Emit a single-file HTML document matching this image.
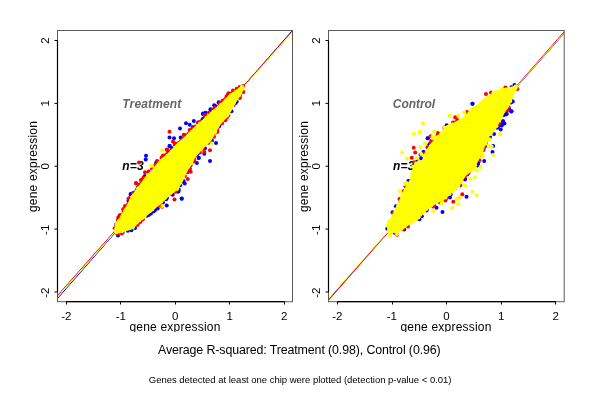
<!DOCTYPE html>
<html><head><meta charset="utf-8">
<style>
html,body{margin:0;padding:0;background:#fff;}
body{width:600px;height:400px;overflow:hidden;position:relative;font-family:"Liberation Sans",sans-serif;}
svg{position:absolute;left:0;top:0;}
text{font-family:"Liberation Sans",sans-serif;fill:#000;filter:grayscale(1);}
.tk{font-size:11.5px;text-anchor:middle;}
.lab{font-size:12px;text-anchor:middle;letter-spacing:0.2px;}
.ttl{font-size:12px;font-weight:bold;font-style:italic;letter-spacing:0.15px;}
</style></head><body>
<svg width="600" height="400" viewBox="0 0 600 400">
<rect width="600" height="400" fill="#fff"/>
<defs>
<clipPath id="cL"><rect x="58" y="31" width="234" height="270"/></clipPath>
<clipPath id="cR"><rect x="329" y="31" width="235" height="270"/></clipPath>
<clipPath id="cX"><rect x="0" y="300" width="600" height="32"/></clipPath>
</defs>
<!-- LEFT PANEL -->
<g id="pL">
<text class="ttl" x="122.3" y="107.9" fill="#666" style="fill:#666">Treatment</text>
<text class="ttl" x="122.3" y="169.7">n=3</text>
<g clip-path="url(#cL)" stroke-width="1" fill="none">
<line x1="57.5" y1="298.5" x2="292.5" y2="30.3" stroke="#0000ff"/>
<line x1="57.5" y1="295.5" x2="292.5" y2="31" stroke="#ff0000"/>
<line x1="57.5" y1="297" x2="292.5" y2="31.9" stroke="#ffff00"/>
</g>
<g id="ptsL">
<circle cx="116.1" cy="224.6" r="2" fill="#0000ff"/>
<circle cx="128.5" cy="200.7" r="2" fill="#0000ff"/>
<circle cx="134.2" cy="192.5" r="2" fill="#0000ff"/>
<circle cx="137.3" cy="189.2" r="2" fill="#0000ff"/>
<circle cx="137.9" cy="187.2" r="2" fill="#0000ff"/>
<circle cx="142.6" cy="180.0" r="2" fill="#0000ff"/>
<circle cx="144.8" cy="175.9" r="2" fill="#0000ff"/>
<circle cx="168.8" cy="151.7" r="2" fill="#0000ff"/>
<circle cx="171.7" cy="148.1" r="2" fill="#0000ff"/>
<circle cx="175.1" cy="144.7" r="2" fill="#0000ff"/>
<circle cx="185.5" cy="135.6" r="2" fill="#0000ff"/>
<circle cx="192.9" cy="127.2" r="2" fill="#0000ff"/>
<circle cx="202.6" cy="119.3" r="2" fill="#0000ff"/>
<circle cx="203.2" cy="119.0" r="2" fill="#0000ff"/>
<circle cx="217.5" cy="106.9" r="2" fill="#0000ff"/>
<circle cx="221.2" cy="102.8" r="2" fill="#0000ff"/>
<circle cx="239.8" cy="95.4" r="2" fill="#0000ff"/>
<circle cx="235.7" cy="103.0" r="2" fill="#0000ff"/>
<circle cx="230.8" cy="111.2" r="2" fill="#0000ff"/>
<circle cx="224.8" cy="119.1" r="2" fill="#0000ff"/>
<circle cx="219.6" cy="125.0" r="2" fill="#0000ff"/>
<circle cx="212.0" cy="140.7" r="2" fill="#0000ff"/>
<circle cx="205.0" cy="148.3" r="2" fill="#0000ff"/>
<circle cx="197.2" cy="154.6" r="2" fill="#0000ff"/>
<circle cx="190.8" cy="165.0" r="2" fill="#0000ff"/>
<circle cx="188.8" cy="170.6" r="2" fill="#0000ff"/>
<circle cx="183.6" cy="181.0" r="2" fill="#0000ff"/>
<circle cx="182.3" cy="181.4" r="2" fill="#0000ff"/>
<circle cx="180.2" cy="185.3" r="2" fill="#0000ff"/>
<circle cx="178.7" cy="189.6" r="2" fill="#0000ff"/>
<circle cx="172.7" cy="192.2" r="2" fill="#0000ff"/>
<circle cx="167.0" cy="197.8" r="2" fill="#0000ff"/>
<circle cx="166.1" cy="199.3" r="2" fill="#0000ff"/>
<circle cx="163.0" cy="202.5" r="2" fill="#0000ff"/>
<circle cx="155.4" cy="207.5" r="2" fill="#0000ff"/>
<circle cx="155.0" cy="209.9" r="2" fill="#0000ff"/>
<circle cx="153.1" cy="211.6" r="2" fill="#0000ff"/>
<circle cx="150.9" cy="213.4" r="2" fill="#0000ff"/>
<circle cx="148.7" cy="215.1" r="2" fill="#0000ff"/>
<circle cx="142.9" cy="218.6" r="2" fill="#0000ff"/>
<circle cx="136.6" cy="223.5" r="2" fill="#0000ff"/>
<circle cx="131.4" cy="230.3" r="2" fill="#0000ff"/>
<circle cx="127.8" cy="230.8" r="2" fill="#0000ff"/>
<circle cx="122.8" cy="231.9" r="2" fill="#0000ff"/>
<circle cx="130.7" cy="194.2" r="2" fill="#0000ff"/>
<circle cx="119.5" cy="216.0" r="2" fill="#0000ff"/>
<circle cx="118.0" cy="235.5" r="2" fill="#0000ff"/>
<circle cx="157.7" cy="208.5" r="2" fill="#0000ff"/>
<circle cx="146.5" cy="216.0" r="2" fill="#0000ff"/>
<circle cx="146.0" cy="155.7" r="2" fill="#0000ff"/>
<circle cx="145.7" cy="159.5" r="2" fill="#0000ff"/>
<circle cx="169.7" cy="146.0" r="2" fill="#0000ff"/>
<circle cx="156.2" cy="162.5" r="2" fill="#0000ff"/>
<circle cx="130.7" cy="194.0" r="2" fill="#0000ff"/>
<circle cx="181.7" cy="198.5" r="2" fill="#0000ff"/>
<circle cx="178.0" cy="191.7" r="2" fill="#0000ff"/>
<circle cx="172.7" cy="194.7" r="2" fill="#0000ff"/>
<circle cx="181.7" cy="198.8" r="2" fill="#0000ff"/>
<circle cx="166.7" cy="205.5" r="2" fill="#0000ff"/>
<circle cx="178.7" cy="191.0" r="2" fill="#0000ff"/>
<circle cx="184.7" cy="183.5" r="2" fill="#0000ff"/>
<circle cx="188.0" cy="171.0" r="2" fill="#0000ff"/>
<circle cx="169.5" cy="137.5" r="2" fill="#0000ff"/>
<circle cx="174.0" cy="138.2" r="2" fill="#0000ff"/>
<circle cx="180.0" cy="128.5" r="2" fill="#0000ff"/>
<circle cx="180.7" cy="137.5" r="2" fill="#0000ff"/>
<circle cx="169.5" cy="146.0" r="2" fill="#0000ff"/>
<circle cx="186.0" cy="123.2" r="2" fill="#0000ff"/>
<circle cx="189.7" cy="124.7" r="2" fill="#0000ff"/>
<circle cx="193.8" cy="121.0" r="2" fill="#0000ff"/>
<circle cx="198.7" cy="122.5" r="2" fill="#0000ff"/>
<circle cx="203.2" cy="114.2" r="2" fill="#0000ff"/>
<circle cx="205.5" cy="112.7" r="2" fill="#0000ff"/>
<circle cx="210.7" cy="109.7" r="2" fill="#0000ff"/>
<circle cx="215.2" cy="106.0" r="2" fill="#0000ff"/>
<circle cx="219.0" cy="103.0" r="2" fill="#0000ff"/>
<circle cx="216.0" cy="143.0" r="2" fill="#0000ff"/>
<circle cx="210.7" cy="138.2" r="2" fill="#0000ff"/>
<circle cx="204.3" cy="153.7" r="2" fill="#0000ff"/>
<circle cx="198.7" cy="157.7" r="2" fill="#0000ff"/>
<circle cx="219.0" cy="126.2" r="2" fill="#0000ff"/>
<circle cx="218.7" cy="102.2" r="2" fill="#0000ff"/>
<circle cx="214.2" cy="105.2" r="2" fill="#0000ff"/>
<circle cx="210.5" cy="109.3" r="2" fill="#0000ff"/>
<circle cx="203.0" cy="113.5" r="2" fill="#0000ff"/>
<circle cx="239.5" cy="87.5" r="2" fill="#0000ff"/>
<circle cx="236.7" cy="101.5" r="2" fill="#0000ff"/>
<circle cx="231.5" cy="111.2" r="2" fill="#0000ff"/>
<circle cx="218.7" cy="126.2" r="2" fill="#0000ff"/>
<circle cx="127.0" cy="229.5" r="2" fill="#0000ff"/>
<circle cx="135.0" cy="228.0" r="2" fill="#0000ff"/>
<circle cx="150.0" cy="213.5" r="2" fill="#0000ff"/>
<circle cx="154.0" cy="211.0" r="2" fill="#0000ff"/>
<circle cx="210.0" cy="161.0" r="2" fill="#0000ff"/>
<circle cx="196.9" cy="163.1" r="2" fill="#0000ff"/>
<circle cx="198.7" cy="158.0" r="2" fill="#0000ff"/>
<circle cx="114.8" cy="228.3" r="2" fill="#ff0000"/>
<circle cx="117.9" cy="220.0" r="2" fill="#ff0000"/>
<circle cx="118.3" cy="217.5" r="2" fill="#ff0000"/>
<circle cx="121.5" cy="215.5" r="2" fill="#ff0000"/>
<circle cx="123.5" cy="212.0" r="2" fill="#ff0000"/>
<circle cx="124.2" cy="209.1" r="2" fill="#ff0000"/>
<circle cx="126.2" cy="206.8" r="2" fill="#ff0000"/>
<circle cx="128.1" cy="204.1" r="2" fill="#ff0000"/>
<circle cx="129.6" cy="197.9" r="2" fill="#ff0000"/>
<circle cx="138.8" cy="184.8" r="2" fill="#ff0000"/>
<circle cx="141.5" cy="181.9" r="2" fill="#ff0000"/>
<circle cx="144.8" cy="178.6" r="2" fill="#ff0000"/>
<circle cx="149.0" cy="173.4" r="2" fill="#ff0000"/>
<circle cx="155.3" cy="165.0" r="2" fill="#ff0000"/>
<circle cx="157.6" cy="161.4" r="2" fill="#ff0000"/>
<circle cx="161.5" cy="158.1" r="2" fill="#ff0000"/>
<circle cx="162.3" cy="156.7" r="2" fill="#ff0000"/>
<circle cx="165.0" cy="155.5" r="2" fill="#ff0000"/>
<circle cx="167.1" cy="154.1" r="2" fill="#ff0000"/>
<circle cx="171.2" cy="150.3" r="2" fill="#ff0000"/>
<circle cx="178.7" cy="143.1" r="2" fill="#ff0000"/>
<circle cx="181.3" cy="140.5" r="2" fill="#ff0000"/>
<circle cx="182.8" cy="139.3" r="2" fill="#ff0000"/>
<circle cx="183.7" cy="138.2" r="2" fill="#ff0000"/>
<circle cx="188.2" cy="134.1" r="2" fill="#ff0000"/>
<circle cx="190.1" cy="131.7" r="2" fill="#ff0000"/>
<circle cx="195.4" cy="126.6" r="2" fill="#ff0000"/>
<circle cx="198.1" cy="122.8" r="2" fill="#ff0000"/>
<circle cx="200.6" cy="121.8" r="2" fill="#ff0000"/>
<circle cx="205.2" cy="116.5" r="2" fill="#ff0000"/>
<circle cx="205.6" cy="115.3" r="2" fill="#ff0000"/>
<circle cx="209.1" cy="112.5" r="2" fill="#ff0000"/>
<circle cx="213.0" cy="111.3" r="2" fill="#ff0000"/>
<circle cx="214.8" cy="107.8" r="2" fill="#ff0000"/>
<circle cx="220.0" cy="104.1" r="2" fill="#ff0000"/>
<circle cx="222.6" cy="100.8" r="2" fill="#ff0000"/>
<circle cx="225.1" cy="99.2" r="2" fill="#ff0000"/>
<circle cx="227.8" cy="94.7" r="2" fill="#ff0000"/>
<circle cx="231.7" cy="93.3" r="2" fill="#ff0000"/>
<circle cx="239.8" cy="88.4" r="2" fill="#ff0000"/>
<circle cx="243.0" cy="86.0" r="2" fill="#ff0000"/>
<circle cx="243.4" cy="92.0" r="2" fill="#ff0000"/>
<circle cx="239.9" cy="98.0" r="2" fill="#ff0000"/>
<circle cx="233.8" cy="105.1" r="2" fill="#ff0000"/>
<circle cx="228.4" cy="115.4" r="2" fill="#ff0000"/>
<circle cx="226.8" cy="117.6" r="2" fill="#ff0000"/>
<circle cx="225.3" cy="120.2" r="2" fill="#ff0000"/>
<circle cx="217.4" cy="128.4" r="2" fill="#ff0000"/>
<circle cx="216.3" cy="132.3" r="2" fill="#ff0000"/>
<circle cx="214.9" cy="132.8" r="2" fill="#ff0000"/>
<circle cx="214.0" cy="136.8" r="2" fill="#ff0000"/>
<circle cx="210.3" cy="142.0" r="2" fill="#ff0000"/>
<circle cx="208.4" cy="142.7" r="2" fill="#ff0000"/>
<circle cx="202.9" cy="148.8" r="2" fill="#ff0000"/>
<circle cx="199.9" cy="152.5" r="2" fill="#ff0000"/>
<circle cx="196.2" cy="155.3" r="2" fill="#ff0000"/>
<circle cx="193.8" cy="158.7" r="2" fill="#ff0000"/>
<circle cx="194.0" cy="161.6" r="2" fill="#ff0000"/>
<circle cx="190.0" cy="168.4" r="2" fill="#ff0000"/>
<circle cx="184.9" cy="175.9" r="2" fill="#ff0000"/>
<circle cx="176.6" cy="190.4" r="2" fill="#ff0000"/>
<circle cx="175.4" cy="191.8" r="2" fill="#ff0000"/>
<circle cx="170.9" cy="193.8" r="2" fill="#ff0000"/>
<circle cx="160.6" cy="204.1" r="2" fill="#ff0000"/>
<circle cx="159.1" cy="205.2" r="2" fill="#ff0000"/>
<circle cx="142.8" cy="219.6" r="2" fill="#ff0000"/>
<circle cx="140.1" cy="222.0" r="2" fill="#ff0000"/>
<circle cx="138.1" cy="223.2" r="2" fill="#ff0000"/>
<circle cx="121.8" cy="233.5" r="2" fill="#ff0000"/>
<circle cx="117.6" cy="233.4" r="2" fill="#ff0000"/>
<circle cx="116.5" cy="233.0" r="2" fill="#ff0000"/>
<circle cx="136.0" cy="183.0" r="2" fill="#ff0000"/>
<circle cx="128.5" cy="198.7" r="2" fill="#ff0000"/>
<circle cx="123.2" cy="209.2" r="2" fill="#ff0000"/>
<circle cx="140.5" cy="221.2" r="2" fill="#ff0000"/>
<circle cx="137.5" cy="225.0" r="2" fill="#ff0000"/>
<circle cx="139.0" cy="162.5" r="2" fill="#ff0000"/>
<circle cx="136.0" cy="183.5" r="2" fill="#ff0000"/>
<circle cx="145.0" cy="172.2" r="2" fill="#ff0000"/>
<circle cx="148.7" cy="171.5" r="2" fill="#ff0000"/>
<circle cx="152.0" cy="169.0" r="2" fill="#ff0000"/>
<circle cx="166.7" cy="149.7" r="2" fill="#ff0000"/>
<circle cx="175.0" cy="143.7" r="2" fill="#ff0000"/>
<circle cx="143.5" cy="177.5" r="2" fill="#ff0000"/>
<circle cx="187.7" cy="172.2" r="2" fill="#ff0000"/>
<circle cx="179.5" cy="181.2" r="2" fill="#ff0000"/>
<circle cx="174.5" cy="199.5" r="2" fill="#ff0000"/>
<circle cx="162.2" cy="206.7" r="2" fill="#ff0000"/>
<circle cx="187.7" cy="179.0" r="2" fill="#ff0000"/>
<circle cx="190.7" cy="171.8" r="2" fill="#ff0000"/>
<circle cx="169.5" cy="131.8" r="2" fill="#ff0000"/>
<circle cx="174.7" cy="143.5" r="2" fill="#ff0000"/>
<circle cx="173.0" cy="141.5" r="2" fill="#ff0000"/>
<circle cx="176.0" cy="144.5" r="2" fill="#ff0000"/>
<circle cx="167.2" cy="149.5" r="2" fill="#ff0000"/>
<circle cx="183.7" cy="134.8" r="2" fill="#ff0000"/>
<circle cx="189.7" cy="130.0" r="2" fill="#ff0000"/>
<circle cx="192.5" cy="128.5" r="2" fill="#ff0000"/>
<circle cx="204.7" cy="115.7" r="2" fill="#ff0000"/>
<circle cx="210.0" cy="113.0" r="2" fill="#ff0000"/>
<circle cx="217.5" cy="131.8" r="2" fill="#ff0000"/>
<circle cx="210.0" cy="150.2" r="2" fill="#ff0000"/>
<circle cx="204.3" cy="152.0" r="2" fill="#ff0000"/>
<circle cx="222.0" cy="123.2" r="2" fill="#ff0000"/>
<circle cx="228.5" cy="93.2" r="2" fill="#ff0000"/>
<circle cx="226.5" cy="96.5" r="2" fill="#ff0000"/>
<circle cx="204.5" cy="115.0" r="2" fill="#ff0000"/>
<circle cx="236.7" cy="88.7" r="2" fill="#ff0000"/>
<circle cx="225.5" cy="118.7" r="2" fill="#ff0000"/>
<circle cx="221.7" cy="123.2" r="2" fill="#ff0000"/>
<circle cx="120.0" cy="215.0" r="2" fill="#ff0000"/>
<circle cx="125.0" cy="206.0" r="2" fill="#ff0000"/>
<circle cx="133.0" cy="193.0" r="2" fill="#ff0000"/>
<circle cx="141.0" cy="180.0" r="2" fill="#ff0000"/>
<circle cx="157.0" cy="161.0" r="2" fill="#ff0000"/>
<circle cx="163.0" cy="155.5" r="2" fill="#ff0000"/>
<circle cx="198.0" cy="122.5" r="2" fill="#ff0000"/>
<circle cx="213.0" cy="109.5" r="2" fill="#ff0000"/>
<circle cx="220.0" cy="103.0" r="2" fill="#ff0000"/>
<circle cx="233.0" cy="90.5" r="2" fill="#ff0000"/>
<circle cx="240.0" cy="87.0" r="2" fill="#ff0000"/>
<circle cx="194.4" cy="160.0" r="2" fill="#ff0000"/>
<polygon points="114.2,231.7 115.7,223.5 119.5,217.5 122.5,212.2 127.0,204.7 131.0,196.3 137.5,187.7 143.5,179.0 149.5,172.2 154.7,166.2 160.0,159.5 166.0,155.0 172.0,149.0 178.0,142.7 183.0,138.2 189.0,132.2 195.0,126.2 201.0,121.0 208.0,114.5 215.5,108.2 222.6,101.5 230.0,94.0 237.5,88.7 243.5,86.5 244.4,88.5 240.5,95.5 236.7,101.5 232.2,109.0 228.5,116.5 223.5,121.0 220.5,124.7 216.0,132.2 211.5,140.5 205.5,146.5 200.2,151.7 195.0,157.7 192.0,164.4 188.1,170.0 185.0,176.2 183.0,181.2 180.0,186.2 177.5,190.0 172.0,193.5 166.0,199.2 160.0,204.5 151.0,212.2 145.0,217.5 137.5,223.5 133.7,228.7 122.5,232.5 115.0,233.4" fill="#ffff00"/>
<circle cx="116.0" cy="231.5" r="2" fill="#ffff00"/>
<circle cx="116.1" cy="228.8" r="2" fill="#ffff00"/>
<circle cx="117.6" cy="227.0" r="2" fill="#ffff00"/>
<circle cx="116.7" cy="224.3" r="2" fill="#ffff00"/>
<circle cx="119.1" cy="221.1" r="2" fill="#ffff00"/>
<circle cx="121.9" cy="219.0" r="2" fill="#ffff00"/>
<circle cx="123.6" cy="216.3" r="2" fill="#ffff00"/>
<circle cx="125.1" cy="213.7" r="2" fill="#ffff00"/>
<circle cx="125.4" cy="210.2" r="2" fill="#ffff00"/>
<circle cx="127.4" cy="208.8" r="2" fill="#ffff00"/>
<circle cx="129.4" cy="205.9" r="2" fill="#ffff00"/>
<circle cx="130.6" cy="203.2" r="2" fill="#ffff00"/>
<circle cx="131.5" cy="200.0" r="2" fill="#ffff00"/>
<circle cx="132.4" cy="196.9" r="2" fill="#ffff00"/>
<circle cx="134.1" cy="195.1" r="2" fill="#ffff00"/>
<circle cx="136.0" cy="193.3" r="2" fill="#ffff00"/>
<circle cx="137.6" cy="191.0" r="2" fill="#ffff00"/>
<circle cx="138.2" cy="188.3" r="2" fill="#ffff00"/>
<circle cx="141.2" cy="187.1" r="2" fill="#ffff00"/>
<circle cx="142.7" cy="184.5" r="2" fill="#ffff00"/>
<circle cx="144.1" cy="182.9" r="2" fill="#ffff00"/>
<circle cx="145.5" cy="180.6" r="2" fill="#ffff00"/>
<circle cx="147.2" cy="178.1" r="2" fill="#ffff00"/>
<circle cx="148.2" cy="175.1" r="2" fill="#ffff00"/>
<circle cx="151.3" cy="173.5" r="2" fill="#ffff00"/>
<circle cx="153.5" cy="172.1" r="2" fill="#ffff00"/>
<circle cx="154.8" cy="169.7" r="2" fill="#ffff00"/>
<circle cx="156.7" cy="167.6" r="2" fill="#ffff00"/>
<circle cx="158.4" cy="165.8" r="2" fill="#ffff00"/>
<circle cx="160.6" cy="163.6" r="2" fill="#ffff00"/>
<circle cx="161.7" cy="161.5" r="2" fill="#ffff00"/>
<circle cx="163.2" cy="159.7" r="2" fill="#ffff00"/>
<circle cx="164.9" cy="158.5" r="2" fill="#ffff00"/>
<circle cx="167.4" cy="156.0" r="2" fill="#ffff00"/>
<circle cx="169.7" cy="154.4" r="2" fill="#ffff00"/>
<circle cx="171.4" cy="151.8" r="2" fill="#ffff00"/>
<circle cx="173.9" cy="150.6" r="2" fill="#ffff00"/>
<circle cx="175.5" cy="148.3" r="2" fill="#ffff00"/>
<circle cx="176.8" cy="146.2" r="2" fill="#ffff00"/>
<circle cx="178.7" cy="144.2" r="2" fill="#ffff00"/>
<circle cx="181.8" cy="142.0" r="2" fill="#ffff00"/>
<circle cx="184.4" cy="140.1" r="2" fill="#ffff00"/>
<circle cx="187.1" cy="137.7" r="2" fill="#ffff00"/>
<circle cx="188.3" cy="135.9" r="2" fill="#ffff00"/>
<circle cx="190.3" cy="133.6" r="2" fill="#ffff00"/>
<circle cx="191.9" cy="131.9" r="2" fill="#ffff00"/>
<circle cx="195.1" cy="129.5" r="2" fill="#ffff00"/>
<circle cx="197.0" cy="128.1" r="2" fill="#ffff00"/>
<circle cx="198.5" cy="126.2" r="2" fill="#ffff00"/>
<circle cx="200.1" cy="123.5" r="2" fill="#ffff00"/>
<circle cx="203.0" cy="123.6" r="2" fill="#ffff00"/>
<circle cx="205.1" cy="120.4" r="2" fill="#ffff00"/>
<circle cx="206.7" cy="117.8" r="2" fill="#ffff00"/>
<circle cx="209.4" cy="116.6" r="2" fill="#ffff00"/>
<circle cx="211.7" cy="113.8" r="2" fill="#ffff00"/>
<circle cx="213.7" cy="111.5" r="2" fill="#ffff00"/>
<circle cx="216.5" cy="109.4" r="2" fill="#ffff00"/>
<circle cx="218.8" cy="107.2" r="2" fill="#ffff00"/>
<circle cx="220.8" cy="105.0" r="2" fill="#ffff00"/>
<circle cx="224.9" cy="103.5" r="2" fill="#ffff00"/>
<circle cx="226.0" cy="100.5" r="2" fill="#ffff00"/>
<circle cx="227.6" cy="99.3" r="2" fill="#ffff00"/>
<circle cx="229.5" cy="97.0" r="2" fill="#ffff00"/>
<circle cx="231.2" cy="95.2" r="2" fill="#ffff00"/>
<circle cx="233.5" cy="94.2" r="2" fill="#ffff00"/>
<circle cx="236.1" cy="92.3" r="2" fill="#ffff00"/>
<circle cx="238.1" cy="91.8" r="2" fill="#ffff00"/>
<circle cx="241.3" cy="90.0" r="2" fill="#ffff00"/>
<circle cx="241.9" cy="87.3" r="2" fill="#ffff00"/>
<circle cx="242.2" cy="86.8" r="2" fill="#ffff00"/>
<circle cx="240.1" cy="89.1" r="2" fill="#ffff00"/>
<circle cx="239.3" cy="91.9" r="2" fill="#ffff00"/>
<circle cx="239.3" cy="95.1" r="2" fill="#ffff00"/>
<circle cx="235.8" cy="96.6" r="2" fill="#ffff00"/>
<circle cx="233.9" cy="99.9" r="2" fill="#ffff00"/>
<circle cx="233.7" cy="102.8" r="2" fill="#ffff00"/>
<circle cx="232.0" cy="105.5" r="2" fill="#ffff00"/>
<circle cx="229.9" cy="107.7" r="2" fill="#ffff00"/>
<circle cx="229.4" cy="110.6" r="2" fill="#ffff00"/>
<circle cx="227.9" cy="113.7" r="2" fill="#ffff00"/>
<circle cx="226.9" cy="115.0" r="2" fill="#ffff00"/>
<circle cx="224.6" cy="116.7" r="2" fill="#ffff00"/>
<circle cx="222.0" cy="119.6" r="2" fill="#ffff00"/>
<circle cx="218.0" cy="123.4" r="2" fill="#ffff00"/>
<circle cx="217.1" cy="126.2" r="2" fill="#ffff00"/>
<circle cx="215.1" cy="128.9" r="2" fill="#ffff00"/>
<circle cx="215.2" cy="131.9" r="2" fill="#ffff00"/>
<circle cx="211.7" cy="133.3" r="2" fill="#ffff00"/>
<circle cx="210.6" cy="136.3" r="2" fill="#ffff00"/>
<circle cx="208.9" cy="138.4" r="2" fill="#ffff00"/>
<circle cx="207.8" cy="141.0" r="2" fill="#ffff00"/>
<circle cx="206.2" cy="142.3" r="2" fill="#ffff00"/>
<circle cx="203.6" cy="145.3" r="2" fill="#ffff00"/>
<circle cx="201.5" cy="148.1" r="2" fill="#ffff00"/>
<circle cx="198.1" cy="149.7" r="2" fill="#ffff00"/>
<circle cx="196.8" cy="152.3" r="2" fill="#ffff00"/>
<circle cx="195.4" cy="154.3" r="2" fill="#ffff00"/>
<circle cx="192.9" cy="156.7" r="2" fill="#ffff00"/>
<circle cx="191.6" cy="160.1" r="2" fill="#ffff00"/>
<circle cx="191.1" cy="163.6" r="2" fill="#ffff00"/>
<circle cx="187.8" cy="165.8" r="2" fill="#ffff00"/>
<circle cx="186.0" cy="169.3" r="2" fill="#ffff00"/>
<circle cx="183.9" cy="171.6" r="2" fill="#ffff00"/>
<circle cx="183.3" cy="175.1" r="2" fill="#ffff00"/>
<circle cx="182.4" cy="177.6" r="2" fill="#ffff00"/>
<circle cx="180.9" cy="179.7" r="2" fill="#ffff00"/>
<circle cx="179.9" cy="182.7" r="2" fill="#ffff00"/>
<circle cx="177.9" cy="184.8" r="2" fill="#ffff00"/>
<circle cx="177.2" cy="188.7" r="2" fill="#ffff00"/>
<circle cx="173.4" cy="190.8" r="2" fill="#ffff00"/>
<circle cx="171.0" cy="192.5" r="2" fill="#ffff00"/>
<circle cx="168.3" cy="193.7" r="2" fill="#ffff00"/>
<circle cx="166.3" cy="194.9" r="2" fill="#ffff00"/>
<circle cx="164.7" cy="198.1" r="2" fill="#ffff00"/>
<circle cx="162.5" cy="199.3" r="2" fill="#ffff00"/>
<circle cx="161.3" cy="201.5" r="2" fill="#ffff00"/>
<circle cx="158.8" cy="203.6" r="2" fill="#ffff00"/>
<circle cx="156.0" cy="204.5" r="2" fill="#ffff00"/>
<circle cx="154.0" cy="206.9" r="2" fill="#ffff00"/>
<circle cx="152.2" cy="209.4" r="2" fill="#ffff00"/>
<circle cx="149.8" cy="211.3" r="2" fill="#ffff00"/>
<circle cx="147.5" cy="212.5" r="2" fill="#ffff00"/>
<circle cx="145.5" cy="213.6" r="2" fill="#ffff00"/>
<circle cx="144.6" cy="216.7" r="2" fill="#ffff00"/>
<circle cx="142.0" cy="217.9" r="2" fill="#ffff00"/>
<circle cx="139.2" cy="220.3" r="2" fill="#ffff00"/>
<circle cx="136.6" cy="222.6" r="2" fill="#ffff00"/>
<circle cx="133.8" cy="224.4" r="2" fill="#ffff00"/>
<circle cx="133.0" cy="226.9" r="2" fill="#ffff00"/>
<circle cx="130.3" cy="227.5" r="2" fill="#ffff00"/>
<circle cx="126.9" cy="227.5" r="2" fill="#ffff00"/>
<circle cx="124.8" cy="229.2" r="2" fill="#ffff00"/>
<circle cx="122.2" cy="230.9" r="2" fill="#ffff00"/>
<circle cx="119.8" cy="229.7" r="2" fill="#ffff00"/>
<circle cx="117.1" cy="230.1" r="2" fill="#ffff00"/>
<circle cx="116.7" cy="232.2" r="2" fill="#ffff00"/>
<circle cx="162.2" cy="150.5" r="2" fill="#ffff00"/>
<circle cx="151.7" cy="165.8" r="2" fill="#ffff00"/>
<circle cx="212.0" cy="143.5" r="2" fill="#ffff00"/>
<circle cx="177.0" cy="187.5" r="2" fill="#ffff00"/>
<circle cx="162.5" cy="206.0" r="2" fill="#ffff00"/>
</g>
<rect x="57.5" y="30.5" width="235" height="271.2" fill="none" stroke="#5a5a5a" stroke-width="1"/>
<path d="M57.5 40.5V292M66.25 301.7H284.25" stroke="#000" stroke-width="1.2" fill="none"/>
<path d="M54.5 40.5H57.5M54.5 103.4H57.5M54.5 166.25H57.5M54.5 229.1H57.5M54.5 292H57.5M66.5 301.5V304.5M120.5 301.5V304.5M175.5 301.5V304.5M229.5 301.5V304.5M284.5 301.5V304.5" stroke="#000" stroke-width="1" fill="none"/>
<g class="tk">
<text x="66.25" y="319.7">-2</text><text x="120.75" y="319.7">-1</text><text x="175.25" y="319.7">0</text><text x="229.75" y="319.7">1</text><text x="284.25" y="319.7">2</text>
<text transform="translate(48.5 292.7) rotate(-90)">-2</text><text transform="translate(48.5 229.8) rotate(-90)">-1</text><text transform="translate(48.5 166.25) rotate(-90)">0</text><text transform="translate(48.5 103.4) rotate(-90)">1</text><text transform="translate(48.5 40.5) rotate(-90)">2</text>
</g>
<g clip-path="url(#cX)"><text class="lab" x="175" y="331">gene expression</text></g>
<text class="lab" transform="translate(37 166.5) rotate(-90)">gene expression</text>
</g>
<!-- RIGHT PANEL -->
<g id="pR">
<text class="ttl" x="392.8" y="107.9" style="fill:#666;letter-spacing:-0.05px">Control</text>
<text class="ttl" x="393" y="169.7">n=3</text>
<g clip-path="url(#cR)" stroke-width="1" fill="none">
<line x1="328.5" y1="299.3" x2="564.5" y2="33" stroke="#0000ff"/>
<line x1="328.5" y1="300.3" x2="564.5" y2="31.3" stroke="#ff0000"/>
<line x1="328.5" y1="298.6" x2="564.5" y2="32.6" stroke="#ffff00"/>
</g>
<g id="ptsR">
<circle cx="395.9" cy="206.2" r="2" fill="#0000ff"/>
<circle cx="417.5" cy="161.5" r="2" fill="#0000ff"/>
<circle cx="429.4" cy="144.3" r="2" fill="#0000ff"/>
<circle cx="446.6" cy="125.2" r="2" fill="#0000ff"/>
<circle cx="511.4" cy="87.3" r="2" fill="#0000ff"/>
<circle cx="511.3" cy="101.0" r="2" fill="#0000ff"/>
<circle cx="511.0" cy="102.5" r="2" fill="#0000ff"/>
<circle cx="506.6" cy="109.7" r="2" fill="#0000ff"/>
<circle cx="503.7" cy="115.2" r="2" fill="#0000ff"/>
<circle cx="498.2" cy="126.3" r="2" fill="#0000ff"/>
<circle cx="485.5" cy="145.8" r="2" fill="#0000ff"/>
<circle cx="478.3" cy="162.3" r="2" fill="#0000ff"/>
<circle cx="477.6" cy="164.1" r="2" fill="#0000ff"/>
<circle cx="467.3" cy="174.3" r="2" fill="#0000ff"/>
<circle cx="464.8" cy="178.3" r="2" fill="#0000ff"/>
<circle cx="450.6" cy="194.6" r="2" fill="#0000ff"/>
<circle cx="426.5" cy="210.4" r="2" fill="#0000ff"/>
<circle cx="421.9" cy="216.2" r="2" fill="#0000ff"/>
<circle cx="404.2" cy="229.6" r="2" fill="#0000ff"/>
<circle cx="394.7" cy="232.8" r="2" fill="#0000ff"/>
<circle cx="408.2" cy="181.5" r="2" fill="#0000ff"/>
<circle cx="419.5" cy="219.3" r="2" fill="#0000ff"/>
<circle cx="387.2" cy="228.7" r="2" fill="#0000ff"/>
<circle cx="392.5" cy="212.2" r="2" fill="#0000ff"/>
<circle cx="428.0" cy="138.2" r="2" fill="#0000ff"/>
<circle cx="423.5" cy="151.7" r="2" fill="#0000ff"/>
<circle cx="420.5" cy="154.7" r="2" fill="#0000ff"/>
<circle cx="421.2" cy="158.5" r="2" fill="#0000ff"/>
<circle cx="408.5" cy="181.0" r="2" fill="#0000ff"/>
<circle cx="417.5" cy="167.5" r="2" fill="#0000ff"/>
<circle cx="442.5" cy="212.0" r="2" fill="#0000ff"/>
<circle cx="436.5" cy="207.7" r="2" fill="#0000ff"/>
<circle cx="466.5" cy="196.7" r="2" fill="#0000ff"/>
<circle cx="450.0" cy="197.5" r="2" fill="#0000ff"/>
<circle cx="455.2" cy="187.7" r="2" fill="#0000ff"/>
<circle cx="465.0" cy="179.5" r="2" fill="#0000ff"/>
<circle cx="477.7" cy="164.5" r="2" fill="#0000ff"/>
<circle cx="472.5" cy="103.8" r="2" fill="#0000ff"/>
<circle cx="427.5" cy="138.3" r="2" fill="#0000ff"/>
<circle cx="472.5" cy="103.7" r="2" fill="#0000ff"/>
<circle cx="514.5" cy="85.0" r="2" fill="#0000ff"/>
<circle cx="489.7" cy="99.7" r="2" fill="#0000ff"/>
<circle cx="512.8" cy="101.5" r="2" fill="#0000ff"/>
<circle cx="511.5" cy="111.2" r="2" fill="#0000ff"/>
<circle cx="509.2" cy="109.0" r="2" fill="#0000ff"/>
<circle cx="506.2" cy="114.2" r="2" fill="#0000ff"/>
<circle cx="503.2" cy="122.5" r="2" fill="#0000ff"/>
<circle cx="501.7" cy="125.5" r="2" fill="#0000ff"/>
<circle cx="497.2" cy="127.7" r="2" fill="#0000ff"/>
<circle cx="506.7" cy="113.7" r="2" fill="#0000ff"/>
<circle cx="511.2" cy="111.5" r="2" fill="#0000ff"/>
<circle cx="503.0" cy="121.0" r="2" fill="#0000ff"/>
<circle cx="504.5" cy="123.5" r="2" fill="#0000ff"/>
<circle cx="502.0" cy="124.5" r="2" fill="#0000ff"/>
<circle cx="500.7" cy="129.5" r="2" fill="#0000ff"/>
<circle cx="494.0" cy="134.0" r="2" fill="#0000ff"/>
<circle cx="493.2" cy="146.0" r="2" fill="#0000ff"/>
<circle cx="492.5" cy="152.0" r="2" fill="#0000ff"/>
<circle cx="484.2" cy="161.0" r="2" fill="#0000ff"/>
<circle cx="477.5" cy="165.5" r="2" fill="#0000ff"/>
<circle cx="490.0" cy="137.0" r="2" fill="#0000ff"/>
<circle cx="486.0" cy="143.0" r="2" fill="#0000ff"/>
<circle cx="424.8" cy="153.2" r="2" fill="#ff0000"/>
<circle cx="427.4" cy="147.3" r="2" fill="#ff0000"/>
<circle cx="431.2" cy="141.1" r="2" fill="#ff0000"/>
<circle cx="433.6" cy="140.1" r="2" fill="#ff0000"/>
<circle cx="437.5" cy="135.5" r="2" fill="#ff0000"/>
<circle cx="444.4" cy="128.1" r="2" fill="#ff0000"/>
<circle cx="453.0" cy="122.5" r="2" fill="#ff0000"/>
<circle cx="455.2" cy="122.6" r="2" fill="#ff0000"/>
<circle cx="457.2" cy="120.1" r="2" fill="#ff0000"/>
<circle cx="505.4" cy="87.4" r="2" fill="#ff0000"/>
<circle cx="517.4" cy="88.9" r="2" fill="#ff0000"/>
<circle cx="508.6" cy="107.1" r="2" fill="#ff0000"/>
<circle cx="507.2" cy="110.5" r="2" fill="#ff0000"/>
<circle cx="499.0" cy="123.5" r="2" fill="#ff0000"/>
<circle cx="483.4" cy="150.1" r="2" fill="#ff0000"/>
<circle cx="482.0" cy="155.8" r="2" fill="#ff0000"/>
<circle cx="479.4" cy="160.3" r="2" fill="#ff0000"/>
<circle cx="465.5" cy="175.3" r="2" fill="#ff0000"/>
<circle cx="460.3" cy="185.2" r="2" fill="#ff0000"/>
<circle cx="446.6" cy="198.0" r="2" fill="#ff0000"/>
<circle cx="434.1" cy="205.3" r="2" fill="#ff0000"/>
<circle cx="403.1" cy="229.0" r="2" fill="#ff0000"/>
<circle cx="397.0" cy="234.7" r="2" fill="#ff0000"/>
<circle cx="403.7" cy="191.2" r="2" fill="#ff0000"/>
<circle cx="416.5" cy="219.0" r="2" fill="#ff0000"/>
<circle cx="427.0" cy="209.2" r="2" fill="#ff0000"/>
<circle cx="413.7" cy="147.7" r="2" fill="#ff0000"/>
<circle cx="415.2" cy="152.5" r="2" fill="#ff0000"/>
<circle cx="411.8" cy="157.7" r="2" fill="#ff0000"/>
<circle cx="414.8" cy="162.2" r="2" fill="#ff0000"/>
<circle cx="431.0" cy="142.7" r="2" fill="#ff0000"/>
<circle cx="437.7" cy="133.0" r="2" fill="#ff0000"/>
<circle cx="415.2" cy="174.2" r="2" fill="#ff0000"/>
<circle cx="405.5" cy="186.2" r="2" fill="#ff0000"/>
<circle cx="425.0" cy="159.0" r="2" fill="#ff0000"/>
<circle cx="426.0" cy="209.2" r="2" fill="#ff0000"/>
<circle cx="453.3" cy="201.7" r="2" fill="#ff0000"/>
<circle cx="462.3" cy="194.2" r="2" fill="#ff0000"/>
<circle cx="445.5" cy="200.5" r="2" fill="#ff0000"/>
<circle cx="463.5" cy="177.2" r="2" fill="#ff0000"/>
<circle cx="468.7" cy="172.7" r="2" fill="#ff0000"/>
<circle cx="455.2" cy="117.3" r="2" fill="#ff0000"/>
<circle cx="467.2" cy="112.2" r="2" fill="#ff0000"/>
<circle cx="438.0" cy="133.8" r="2" fill="#ff0000"/>
<circle cx="430.5" cy="136.2" r="2" fill="#ff0000"/>
<circle cx="431.2" cy="142.5" r="2" fill="#ff0000"/>
<circle cx="486.0" cy="94.0" r="2" fill="#ff0000"/>
<circle cx="466.8" cy="112.3" r="2" fill="#ff0000"/>
<circle cx="491.0" cy="92.5" r="2" fill="#ff0000"/>
<circle cx="484.2" cy="147.5" r="2" fill="#ff0000"/>
<circle cx="479.7" cy="152.7" r="2" fill="#ff0000"/>
<circle cx="393.0" cy="213.0" r="2" fill="#ff0000"/>
<circle cx="399.5" cy="199.0" r="2" fill="#ff0000"/>
<circle cx="389.0" cy="228.0" r="2" fill="#ff0000"/>
<circle cx="408.0" cy="226.5" r="2" fill="#ff0000"/>
<circle cx="433.0" cy="206.5" r="2" fill="#ff0000"/>
<circle cx="440.0" cy="202.5" r="2" fill="#ff0000"/>
<polygon points="388.0,231.7 387.2,223.5 391.0,217.5 394.7,209.2 397.7,202.5 402.2,195.0 404.0,189.2 410.0,179.5 412.2,170.5 416.0,163.0 422.0,160.0 425.0,152.5 429.5,145.0 435.0,138.0 442.5,130.5 447.0,125.2 454.5,122.2 462.0,117.7 466.0,114.7 471.0,108.2 478.5,103.7 483.0,98.5 489.0,95.5 492.7,92.5 500.2,89.5 508.5,87.2 516.0,85.7 517.5,87.2 516.7,89.5 513.7,94.7 511.5,101.5 508.5,107.5 504.7,112.0 501.5,119.0 497.0,126.5 492.5,132.5 488.0,138.5 485.0,146.0 482.0,153.5 477.5,162.5 474.5,169.2 465.0,176.5 462.0,182.5 457.5,188.5 450.0,194.5 444.0,199.7 436.5,203.5 429.0,208.7 421.0,216.0 415.0,222.0 409.0,225.0 401.5,230.2 392.5,233.2 391.0,235.5" fill="#ffff00"/>
<circle cx="388.6" cy="231.4" r="2" fill="#ffff00"/>
<circle cx="389.1" cy="228.7" r="2" fill="#ffff00"/>
<circle cx="388.4" cy="226.2" r="2" fill="#ffff00"/>
<circle cx="388.3" cy="224.5" r="2" fill="#ffff00"/>
<circle cx="389.3" cy="221.2" r="2" fill="#ffff00"/>
<circle cx="392.8" cy="217.8" r="2" fill="#ffff00"/>
<circle cx="394.3" cy="215.3" r="2" fill="#ffff00"/>
<circle cx="395.9" cy="212.9" r="2" fill="#ffff00"/>
<circle cx="397.5" cy="210.5" r="2" fill="#ffff00"/>
<circle cx="398.0" cy="207.1" r="2" fill="#ffff00"/>
<circle cx="399.6" cy="203.6" r="2" fill="#ffff00"/>
<circle cx="402.4" cy="202.0" r="2" fill="#ffff00"/>
<circle cx="402.1" cy="198.4" r="2" fill="#ffff00"/>
<circle cx="402.4" cy="195.7" r="2" fill="#ffff00"/>
<circle cx="404.3" cy="192.5" r="2" fill="#ffff00"/>
<circle cx="406.1" cy="190.6" r="2" fill="#ffff00"/>
<circle cx="407.3" cy="187.8" r="2" fill="#ffff00"/>
<circle cx="407.9" cy="184.8" r="2" fill="#ffff00"/>
<circle cx="410.1" cy="183.6" r="2" fill="#ffff00"/>
<circle cx="411.7" cy="180.4" r="2" fill="#ffff00"/>
<circle cx="411.8" cy="176.8" r="2" fill="#ffff00"/>
<circle cx="412.3" cy="173.3" r="2" fill="#ffff00"/>
<circle cx="413.5" cy="171.3" r="2" fill="#ffff00"/>
<circle cx="415.4" cy="169.2" r="2" fill="#ffff00"/>
<circle cx="415.5" cy="165.5" r="2" fill="#ffff00"/>
<circle cx="416.0" cy="163.4" r="2" fill="#ffff00"/>
<circle cx="419.0" cy="162.0" r="2" fill="#ffff00"/>
<circle cx="424.4" cy="161.2" r="2" fill="#ffff00"/>
<circle cx="425.3" cy="158.8" r="2" fill="#ffff00"/>
<circle cx="424.5" cy="155.7" r="2" fill="#ffff00"/>
<circle cx="426.6" cy="153.5" r="2" fill="#ffff00"/>
<circle cx="427.5" cy="150.6" r="2" fill="#ffff00"/>
<circle cx="429.6" cy="148.6" r="2" fill="#ffff00"/>
<circle cx="431.1" cy="146.0" r="2" fill="#ffff00"/>
<circle cx="433.8" cy="144.0" r="2" fill="#ffff00"/>
<circle cx="435.3" cy="142.0" r="2" fill="#ffff00"/>
<circle cx="435.5" cy="138.1" r="2" fill="#ffff00"/>
<circle cx="437.7" cy="137.0" r="2" fill="#ffff00"/>
<circle cx="440.5" cy="136.0" r="2" fill="#ffff00"/>
<circle cx="441.4" cy="133.9" r="2" fill="#ffff00"/>
<circle cx="444.9" cy="132.4" r="2" fill="#ffff00"/>
<circle cx="444.9" cy="127.8" r="2" fill="#ffff00"/>
<circle cx="447.9" cy="126.9" r="2" fill="#ffff00"/>
<circle cx="451.1" cy="127.5" r="2" fill="#ffff00"/>
<circle cx="452.4" cy="124.5" r="2" fill="#ffff00"/>
<circle cx="456.1" cy="124.3" r="2" fill="#ffff00"/>
<circle cx="458.6" cy="123.1" r="2" fill="#ffff00"/>
<circle cx="460.6" cy="120.5" r="2" fill="#ffff00"/>
<circle cx="463.0" cy="119.7" r="2" fill="#ffff00"/>
<circle cx="465.2" cy="116.9" r="2" fill="#ffff00"/>
<circle cx="467.1" cy="115.4" r="2" fill="#ffff00"/>
<circle cx="469.6" cy="113.4" r="2" fill="#ffff00"/>
<circle cx="471.6" cy="112.2" r="2" fill="#ffff00"/>
<circle cx="471.8" cy="109.5" r="2" fill="#ffff00"/>
<circle cx="474.2" cy="107.9" r="2" fill="#ffff00"/>
<circle cx="476.6" cy="106.7" r="2" fill="#ffff00"/>
<circle cx="479.9" cy="104.7" r="2" fill="#ffff00"/>
<circle cx="482.7" cy="102.2" r="2" fill="#ffff00"/>
<circle cx="484.1" cy="100.8" r="2" fill="#ffff00"/>
<circle cx="486.9" cy="98.8" r="2" fill="#ffff00"/>
<circle cx="490.5" cy="97.2" r="2" fill="#ffff00"/>
<circle cx="493.5" cy="95.0" r="2" fill="#ffff00"/>
<circle cx="495.5" cy="93.0" r="2" fill="#ffff00"/>
<circle cx="498.2" cy="91.7" r="2" fill="#ffff00"/>
<circle cx="500.5" cy="92.2" r="2" fill="#ffff00"/>
<circle cx="502.8" cy="89.7" r="2" fill="#ffff00"/>
<circle cx="505.7" cy="89.5" r="2" fill="#ffff00"/>
<circle cx="509.2" cy="90.1" r="2" fill="#ffff00"/>
<circle cx="511.9" cy="89.0" r="2" fill="#ffff00"/>
<circle cx="514.2" cy="87.9" r="2" fill="#ffff00"/>
<circle cx="515.5" cy="86.8" r="2" fill="#ffff00"/>
<circle cx="515.7" cy="86.5" r="2" fill="#ffff00"/>
<circle cx="515.4" cy="88.5" r="2" fill="#ffff00"/>
<circle cx="512.8" cy="91.1" r="2" fill="#ffff00"/>
<circle cx="512.2" cy="94.7" r="2" fill="#ffff00"/>
<circle cx="511.1" cy="97.5" r="2" fill="#ffff00"/>
<circle cx="510.3" cy="101.0" r="2" fill="#ffff00"/>
<circle cx="507.2" cy="103.7" r="2" fill="#ffff00"/>
<circle cx="506.3" cy="106.2" r="2" fill="#ffff00"/>
<circle cx="505.4" cy="108.3" r="2" fill="#ffff00"/>
<circle cx="503.0" cy="111.5" r="2" fill="#ffff00"/>
<circle cx="502.0" cy="113.7" r="2" fill="#ffff00"/>
<circle cx="501.1" cy="116.2" r="2" fill="#ffff00"/>
<circle cx="500.4" cy="118.4" r="2" fill="#ffff00"/>
<circle cx="498.4" cy="120.6" r="2" fill="#ffff00"/>
<circle cx="495.5" cy="122.5" r="2" fill="#ffff00"/>
<circle cx="496.6" cy="126.0" r="2" fill="#ffff00"/>
<circle cx="494.6" cy="128.1" r="2" fill="#ffff00"/>
<circle cx="493.0" cy="129.3" r="2" fill="#ffff00"/>
<circle cx="491.8" cy="131.8" r="2" fill="#ffff00"/>
<circle cx="490.7" cy="133.9" r="2" fill="#ffff00"/>
<circle cx="487.2" cy="135.0" r="2" fill="#ffff00"/>
<circle cx="485.3" cy="137.9" r="2" fill="#ffff00"/>
<circle cx="486.3" cy="141.1" r="2" fill="#ffff00"/>
<circle cx="485.7" cy="143.8" r="2" fill="#ffff00"/>
<circle cx="483.1" cy="144.7" r="2" fill="#ffff00"/>
<circle cx="482.3" cy="147.7" r="2" fill="#ffff00"/>
<circle cx="481.8" cy="150.1" r="2" fill="#ffff00"/>
<circle cx="481.5" cy="153.7" r="2" fill="#ffff00"/>
<circle cx="478.6" cy="154.3" r="2" fill="#ffff00"/>
<circle cx="476.7" cy="156.4" r="2" fill="#ffff00"/>
<circle cx="476.7" cy="159.0" r="2" fill="#ffff00"/>
<circle cx="474.4" cy="161.4" r="2" fill="#ffff00"/>
<circle cx="475.1" cy="165.3" r="2" fill="#ffff00"/>
<circle cx="474.1" cy="168.8" r="2" fill="#ffff00"/>
<circle cx="471.5" cy="169.6" r="2" fill="#ffff00"/>
<circle cx="468.6" cy="171.2" r="2" fill="#ffff00"/>
<circle cx="465.2" cy="172.2" r="2" fill="#ffff00"/>
<circle cx="463.3" cy="176.2" r="2" fill="#ffff00"/>
<circle cx="461.7" cy="178.5" r="2" fill="#ffff00"/>
<circle cx="461.1" cy="181.8" r="2" fill="#ffff00"/>
<circle cx="458.4" cy="183.2" r="2" fill="#ffff00"/>
<circle cx="458.2" cy="185.5" r="2" fill="#ffff00"/>
<circle cx="456.5" cy="186.8" r="2" fill="#ffff00"/>
<circle cx="453.5" cy="188.9" r="2" fill="#ffff00"/>
<circle cx="451.3" cy="190.9" r="2" fill="#ffff00"/>
<circle cx="449.5" cy="194.1" r="2" fill="#ffff00"/>
<circle cx="446.3" cy="193.7" r="2" fill="#ffff00"/>
<circle cx="445.5" cy="197.4" r="2" fill="#ffff00"/>
<circle cx="443.2" cy="198.1" r="2" fill="#ffff00"/>
<circle cx="441.2" cy="199.8" r="2" fill="#ffff00"/>
<circle cx="437.7" cy="199.9" r="2" fill="#ffff00"/>
<circle cx="435.4" cy="201.8" r="2" fill="#ffff00"/>
<circle cx="432.5" cy="202.6" r="2" fill="#ffff00"/>
<circle cx="430.8" cy="205.7" r="2" fill="#ffff00"/>
<circle cx="427.9" cy="206.6" r="2" fill="#ffff00"/>
<circle cx="425.7" cy="208.9" r="2" fill="#ffff00"/>
<circle cx="423.4" cy="210.0" r="2" fill="#ffff00"/>
<circle cx="421.8" cy="212.8" r="2" fill="#ffff00"/>
<circle cx="420.3" cy="214.8" r="2" fill="#ffff00"/>
<circle cx="418.5" cy="217.5" r="2" fill="#ffff00"/>
<circle cx="415.9" cy="219.4" r="2" fill="#ffff00"/>
<circle cx="413.7" cy="220.0" r="2" fill="#ffff00"/>
<circle cx="411.0" cy="221.8" r="2" fill="#ffff00"/>
<circle cx="407.9" cy="223.0" r="2" fill="#ffff00"/>
<circle cx="405.1" cy="224.4" r="2" fill="#ffff00"/>
<circle cx="402.6" cy="227.5" r="2" fill="#ffff00"/>
<circle cx="401.1" cy="229.0" r="2" fill="#ffff00"/>
<circle cx="398.5" cy="230.1" r="2" fill="#ffff00"/>
<circle cx="395.4" cy="231.4" r="2" fill="#ffff00"/>
<circle cx="389.9" cy="231.2" r="2" fill="#ffff00"/>
<circle cx="390.1" cy="235.8" r="2" fill="#ffff00"/>
<circle cx="402.2" cy="152.5" r="2" fill="#ffff00"/>
<circle cx="407.0" cy="158.5" r="2" fill="#ffff00"/>
<circle cx="413.7" cy="133.7" r="2" fill="#ffff00"/>
<circle cx="419.7" cy="131.8" r="2" fill="#ffff00"/>
<circle cx="434.7" cy="131.8" r="2" fill="#ffff00"/>
<circle cx="416.7" cy="157.7" r="2" fill="#ffff00"/>
<circle cx="420.5" cy="147.2" r="2" fill="#ffff00"/>
<circle cx="425.0" cy="143.5" r="2" fill="#ffff00"/>
<circle cx="432.5" cy="136.7" r="2" fill="#ffff00"/>
<circle cx="404.7" cy="184.0" r="2" fill="#ffff00"/>
<circle cx="413.0" cy="166.7" r="2" fill="#ffff00"/>
<circle cx="416.0" cy="171.2" r="2" fill="#ffff00"/>
<circle cx="421.2" cy="154.0" r="2" fill="#ffff00"/>
<circle cx="400.0" cy="191.2" r="2" fill="#ffff00"/>
<circle cx="406.5" cy="183.0" r="2" fill="#ffff00"/>
<circle cx="433.5" cy="211.0" r="2" fill="#ffff00"/>
<circle cx="452.2" cy="208.0" r="2" fill="#ffff00"/>
<circle cx="458.2" cy="204.2" r="2" fill="#ffff00"/>
<circle cx="456.7" cy="199.0" r="2" fill="#ffff00"/>
<circle cx="459.7" cy="197.5" r="2" fill="#ffff00"/>
<circle cx="472.5" cy="191.8" r="2" fill="#ffff00"/>
<circle cx="476.7" cy="195.2" r="2" fill="#ffff00"/>
<circle cx="465.0" cy="185.5" r="2" fill="#ffff00"/>
<circle cx="470.2" cy="178.7" r="2" fill="#ffff00"/>
<circle cx="474.7" cy="177.2" r="2" fill="#ffff00"/>
<circle cx="477.0" cy="170.5" r="2" fill="#ffff00"/>
<circle cx="441.7" cy="203.5" r="2" fill="#ffff00"/>
<circle cx="423.0" cy="123.3" r="2" fill="#ffff00"/>
<circle cx="420.0" cy="132.7" r="2" fill="#ffff00"/>
<circle cx="434.2" cy="132.0" r="2" fill="#ffff00"/>
<circle cx="449.7" cy="115.8" r="2" fill="#ffff00"/>
<circle cx="458.2" cy="115.2" r="2" fill="#ffff00"/>
<circle cx="464.2" cy="112.5" r="2" fill="#ffff00"/>
<circle cx="425.2" cy="143.2" r="2" fill="#ffff00"/>
<circle cx="432.7" cy="138.0" r="2" fill="#ffff00"/>
<circle cx="493.5" cy="92.5" r="2" fill="#ffff00"/>
<circle cx="501.7" cy="89.5" r="2" fill="#ffff00"/>
<circle cx="500.0" cy="134.0" r="2" fill="#ffff00"/>
<circle cx="489.5" cy="139.2" r="2" fill="#ffff00"/>
<circle cx="488.7" cy="146.0" r="2" fill="#ffff00"/>
<circle cx="491.7" cy="146.7" r="2" fill="#ffff00"/>
<circle cx="493.2" cy="155.0" r="2" fill="#ffff00"/>
<circle cx="482.7" cy="156.5" r="2" fill="#ffff00"/>
<circle cx="480.5" cy="167.0" r="2" fill="#ffff00"/>
<circle cx="397.0" cy="234.0" r="2" fill="#ffff00"/>
</g>
<rect x="328.5" y="30.5" width="235.7" height="271.2" fill="none" stroke="#5a5a5a" stroke-width="1"/>
<path d="M328.5 40.5V292M337.3 301.7H555.7" stroke="#000" stroke-width="1.2" fill="none"/>
<path d="M325.5 40.5H328.5M325.5 103.4H328.5M325.5 166.25H328.5M325.5 229.1H328.5M325.5 292H328.5M337.5 301.5V304.5M392.5 301.5V304.5M446.5 301.5V304.5M501.5 301.5V304.5M555.5 301.5V304.5" stroke="#000" stroke-width="1" fill="none"/>
<g class="tk">
<text x="337.3" y="319.7">-2</text><text x="391.9" y="319.7">-1</text><text x="446.5" y="319.7">0</text><text x="501.1" y="319.7">1</text><text x="555.7" y="319.7">2</text>
<text transform="translate(319.5 292.7) rotate(-90)">-2</text><text transform="translate(319.5 229.8) rotate(-90)">-1</text><text transform="translate(319.5 166.25) rotate(-90)">0</text><text transform="translate(319.5 103.4) rotate(-90)">1</text><text transform="translate(319.5 40.5) rotate(-90)">2</text>
</g>
<g clip-path="url(#cX)"><text class="lab" x="446" y="331">gene expression</text></g>
<text class="lab" transform="translate(308 166.5) rotate(-90)">gene expression</text>
</g>
<text x="158" y="354.3" font-size="12.4" textLength="282.7" lengthAdjust="spacing">Average R-squared: Treatment (0.98), Control (0.96)</text>
<text x="148.8" y="382.6" font-size="9.5" textLength="302.7" lengthAdjust="spacing">Genes detected at least one chip were plotted (detection p-value &lt; 0.01)</text>
</svg>
</body></html>
